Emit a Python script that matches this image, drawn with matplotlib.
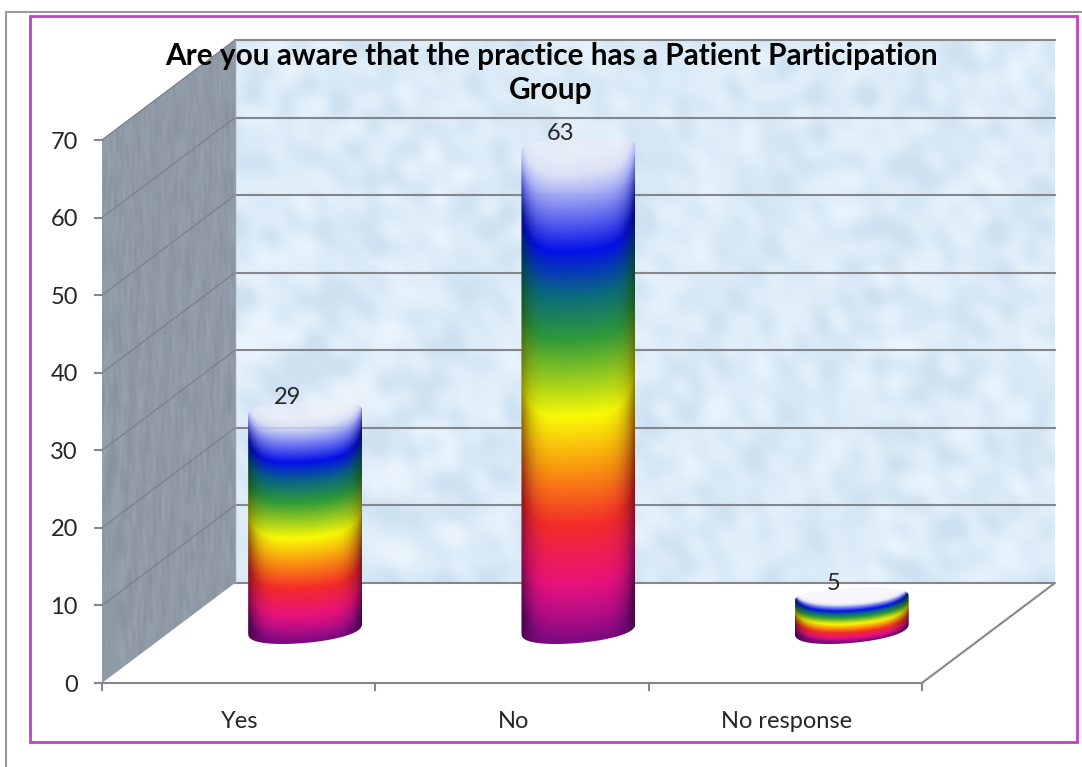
import numpy as np
import matplotlib
matplotlib.use("Agg")
import matplotlib.pyplot as plt
from matplotlib.colors import LinearSegmentedColormap
from matplotlib.patches import Polygon, Rectangle

plt.rcParams['font.family'] = ['Lato', 'DejaVu Sans']

# Data
categories = ["Yes", "No", "No response"]
values = [29, 63, 5]
y_ticks = [0, 10, 20, 30, 40, 50, 60, 70]
title = "Are you aware that the practice has a Patient Participation\nGroup"

# Scale of the fake 3D box (x in categories, y in answers)
W, H = 1082, 767
x_px = 273.3  # pixels per category
y_px = 7.757  # pixels per unit
x0_px, y0_px = 102, 683
DX = 133 / x_px  # depth offset
DY = 100 / y_px
Y_MAX = 70
N = len(categories)

# Rainbow of the bars, bottom to top
rainbow = LinearSegmentedColormap.from_list("rainbow_bar", [
    (0.00, "#8a0a8c"), (0.115, "#e8127c"), (0.235, "#f42a2a"), (0.34, "#f98a12"),
    (0.46, "#fafa06"), (0.62, "#2f9a3a"), (0.71, "#0a6a80"), (0.80, "#0410e8"),
    (0.89, "#7f86f2"), (0.96, "#dcdff6"), (1.00, "#eeeef8")])


def texture(ny, nx, stretch=1.0):
    # soft mottled pattern for the walls, many waves in different directions
    yy, xx = np.mgrid[0:ny, 0:nx]
    t = np.zeros((ny, nx))
    for k in range(1, 61):
        angle = k * 2.39996
        freq = 0.08 + 0.4 * ((k * 0.618034) % 1)
        t += np.sin(freq * (xx * np.cos(angle) * stretch + yy * np.sin(angle)) + k * 1.7) / (1 + 2 * freq)
    return np.clip(t / (2.2 * t.std()), -1, 1)


def draw_cylinder(ax, center, value, width=0.417, semi=1.93, top_semi=1.55, tilt=0.65):
    base = DY / 2 + 0.65
    half = width / 2
    rim = DY / 2 + value + 0.8
    ny, nx = 500, 120
    xs = np.linspace(-1, 1, nx)
    ys = np.linspace(base - semi - 1, rim + 1, ny)
    u, y = np.meshgrid(xs, ys)
    arc = np.sqrt(1 - u ** 2)
    f = (y - base + 1.75 * arc - tilt * u * 0.7) / value - 0.05 * np.abs(u) ** 6
    rgba = rainbow(np.clip(f, 0, 1))
    fade = np.clip((f - 0.82) / 0.1, 0, 1)
    shade = 1 - 0.45 * np.abs(u) ** 6 * (1 - fade)
    shade = shade * (0.92 + 1.6 * np.clip(f, 0, 0.05))
    rgba[..., :3] = np.clip(rgba[..., :3] * shade[..., None], 0, 1)
    rgba[..., 3] = 1 - 0.5 * np.clip((f - 0.9) / 0.14, 0, 1)
    im = ax.imshow(rgba, origin="lower", aspect="auto", interpolation="bilinear", zorder=4,
                   extent=(center - half, center + half, ys[0], ys[-1]))
    # outline: back rim of the top, then the rounded bottom
    t = np.linspace(0, np.pi, 60)
    top = np.c_[center + half * np.cos(t), rim - top_semi + top_semi * np.sin(t) ** 0.6 + tilt * 0.5 * np.cos(t)]
    bottom = np.c_[center - half * np.cos(t), base - semi * np.sin(t) ** 0.75 - tilt * np.cos(t)]
    clip = Polygon(np.r_[top, bottom], closed=True, transform=ax.transData)
    im.set_clip_path(clip)


fig = plt.figure(figsize=(W / 100, H / 100), dpi=100)
ax = fig.add_axes([0, 0, 1, 1])
ax.axis("off")
xlim = (-x0_px / x_px, (W - x0_px) / x_px)
ylim = ((y0_px - H) / y_px, y0_px / y_px)

grey = "#83878b"
ink = "#262626"

# Back wall
wall_extent = (DX, N + DX, DY, Y_MAX + DY)
t_back = texture(272, 411)
back = np.zeros(t_back.shape + (3,))
back[..., 0] = 0.86 + 0.05 * t_back
back[..., 1] = 0.92 + 0.035 * t_back
back[..., 2] = 0.968 + 0.02 * t_back
ax.imshow(back, origin="lower", aspect="auto", extent=wall_extent, zorder=1, interpolation="bilinear")

# Side wall
t_side = texture(320, 133, stretch=4.0)
side = np.zeros(t_side.shape + (3,))
side[..., 0] = 0.56 + 0.025 * t_side
side[..., 1] = 0.605 + 0.025 * t_side
side[..., 2] = 0.65 + 0.025 * t_side
im_side = ax.imshow(side, origin="lower", aspect="auto", zorder=1,
                    extent=(0, DX, 0, Y_MAX + DY))
side_poly = Polygon([(0, 0), (DX, DY), (DX, Y_MAX + DY), (0, Y_MAX)], closed=True,
                    transform=ax.transData)
im_side.set_clip_path(side_poly)

# Grid lines, back and side
for v in y_ticks:
    if v > 0:
        ax.plot([DX, N + DX], [v + DY, v + DY], color=grey, lw=1.5, zorder=2)
        ax.plot([0, DX], [v, v + DY], color="#7c838a", lw=1, zorder=2)
    ax.plot([-7 / x_px, 0], [v, v], color=grey, lw=1.5, zorder=2)
    ax.text(-24 / x_px, v - 2 / y_px, str(v), ha="right", va="center", fontsize=17, color=ink, zorder=6)

# Floor
ax.plot([0, N, N + DX, DX], [0, 0, DY, DY], color=grey, lw=1.5, zorder=2)
ax.plot([DX, DX], [DY, Y_MAX + DY], color="#9aa3ab", lw=1, zorder=2)
for i in range(N + 1):
    ax.plot([i, i], [0, -7 / y_px], color=grey, lw=1.5, zorder=2)

# Bars and labels
for i, (name, val) in enumerate(zip(categories, values)):
    center = i + 0.5 + DX / 2
    draw_cylinder(ax, center, val)
    ax.text(center - 18 / x_px, val + DY / 2 + 10.5 / y_px, str(val), ha="center", va="center",
            fontsize=17, color=ink, zorder=6)
    ax.text(i + 0.5 + 1.5 / x_px, -39 / y_px, name, ha="center", va="center", fontsize=17, color=ink, zorder=6)

# Title
ax.text((551 - x0_px) / x_px, (y0_px - 73) / y_px, title, ha="center", va="center",
        fontsize=21.4, fontweight="bold", color="black", linespacing=1.25, zorder=7)

ax.set_xlim(*xlim)
ax.set_ylim(*ylim)

# Frames, in figure pixels
fig.add_artist(Rectangle((6 / W, -0.01), 1.1, 1 - 12 / H + 0.01, fill=False, ec="#9a9a9a", lw=1.5,
                         transform=fig.transFigure))
fig.add_artist(Rectangle((30 / W, 1 - 742 / H), 1047 / W, 726 / H, fill=False, ec="#c33fc3", lw=2,
                         transform=fig.transFigure))

fig.savefig("out.png", dpi=100)
